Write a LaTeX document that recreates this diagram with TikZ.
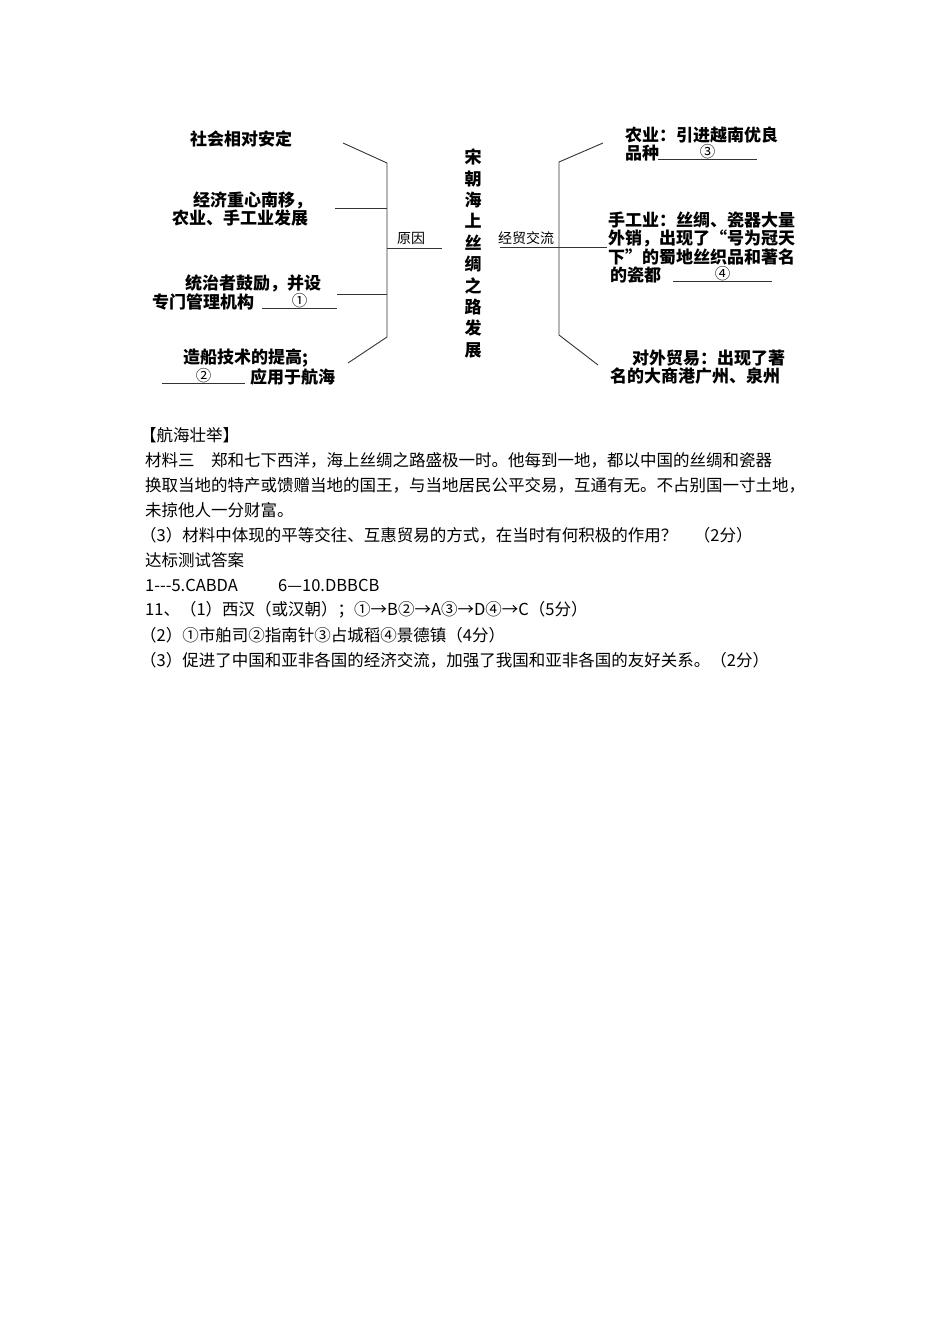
\documentclass[tikz,border=0pt]{standalone}
\usepackage{fontspec}
\setmainfont{Noto Sans CJK SC}[Ligatures=TeXOff]
\usetikzlibrary{positioning}

\begin{document}
\begin{tikzpicture}[x=1pt, y=-1pt,
    item/.style={anchor=west, inner sep=0pt, font=\fontsize{17}{21}\selectfont\bfseries},
    tag/.style={anchor=west, inner sep=0pt, font=\fontsize{14}{16}\selectfont},
    blank/.style={inner sep=0pt, minimum width=#1, minimum height=14pt, font=\fontsize{15.5}{15}\selectfont},
    txt/.style={anchor=west, inner sep=0pt, font=\fontsize{16.5}{20}\selectfont},
    bline/.style={line width=0.9pt, black!80}
]
\useasboundingbox (0,0) rectangle (950,1344);

% left branch: causes
\node[item] (c1) at (190,139) {社会相对安定};
\node[item] (c2a) at (193,200) {经济重心南移，};
\node[item] (c2b) at (172,218) {农业、手工业发展};
\node[item] (c3a) at (185,283) {统治者鼓励，并设};
\node[item] (c3b) at (152,302) {专门管理机构};
\node[blank=75pt] (b1) at (299.5,301) {①};
\node[item] (c4a) at (183,358) {造船技术的提高;};
\node[blank=83pt] (b2) at (203.5,376) {②};
\node[item] (c4b) at (250,377) {应用于航海};
\node[tag] (yy) at (397,238) {原因};

% title
\node[inner sep=0pt, align=center, font=\fontsize{17}{21.4}\selectfont\bfseries] (title) at (473,253.5)
    {宋\\朝\\海\\上\\丝\\绸\\之\\路\\发\\展};

% right branch: trade
\node[tag] (jm) at (498,238) {经贸交流};
\node[item] (e1a) at (625,135) {农业：引进越南优良};
\node[item] (e1b) at (625,153) {品种};
\node[blank=99pt] (b3) at (707.5,152) {③};
\node[item] (e2a) at (608,220) {手工业：丝绸、瓷器大量};
\node[item] (e2b) at (608,238) {外销，出现了“号为冠天};
\node[item] (e2c) at (608,257) {下”的蜀地丝织品和著名};
\node[item] (e2d) at (610,275) {的瓷都};
\node[blank=99pt] (b4) at (722.5,274) {④};
\node[item] (e3a) at (632,358) {对外贸易：出现了著};
\node[item] (e3b) at (610,376) {名的大商港广州、泉州};

% bracket points
\coordinate (lt) at (387,163);
\coordinate (lb) at (387,337);
\coordinate (l1) at (343,143);
\coordinate (l2) at (335,208);
\coordinate (l2s) at (387,208);
\coordinate (l3) at (337,294);
\coordinate (l3s) at (387,294);
\coordinate (l4) at (348,363);
\coordinate (lm) at (387,248);
\coordinate (lr) at (442,248);
\coordinate (rt) at (559,162);
\coordinate (rb) at (559,335);
\coordinate (r1) at (603,143);
\coordinate (r4) at (598,365);
\coordinate (rl) at (500,247);
\coordinate (rr) at (607,247);

\draw[bline] (l1) -- (lt) -- (lb) -- (l4);
\draw[bline] (l2) -- (l2s);
\draw[bline] (l3) -- (l3s);
\draw[bline] (lm) -- (lr);
\draw[bline] (r1) -- (rt) -- (rb) -- (r4);
\draw[bline] (rl) -- (rr);

\draw[bline] (b1.south west) -- (b1.south east);
\draw[bline] (b2.south west) -- (b2.south east);
\draw[bline] (b3.south west) -- (b3.south east);
\draw[bline] (b4.south west) -- (b4.south east);

% text below
\node[txt] (head) at (140,435) {【航海壮举】};
\node[txt] (m1) at (145,460) {材料三　郑和七下西洋，海上丝绸之路盛极一时。他每到一地，都以中国的丝绸和瓷器};
\node[txt] (m2) at (145,485) {换取当地的特产或馈赠当地的国王，与当地居民公平交易，互通有无。不占别国一寸土地，};
\node[txt] (m3) at (145,510) {未掠他人一分财富。};
\node[txt] (q3) at (140,535) {（3）材料中体现的平等交往、互惠贸易的方式，在当时有何积极的作用？　（2分）};
\node[txt] (ans) at (145,560) {达标测试答案};
\node[txt] (a1) at (145,585) {\makebox[133pt][l]{1---5.CABDA}6—10.DBBCB};
\node[txt] (a11) at (145,610) {11、（1）西汉（或汉朝）；①→B②→A③→D④→C（5分）};
\node[txt] (a2) at (140,635) {（2）①市舶司②指南针③占城稻④景德镇（4分）};
\node[txt] (a3) at (140,660) {（3）促进了中国和亚非各国的经济交流，加强了我国和亚非各国的友好关系。（2分）};

\end{tikzpicture}
\end{document}
